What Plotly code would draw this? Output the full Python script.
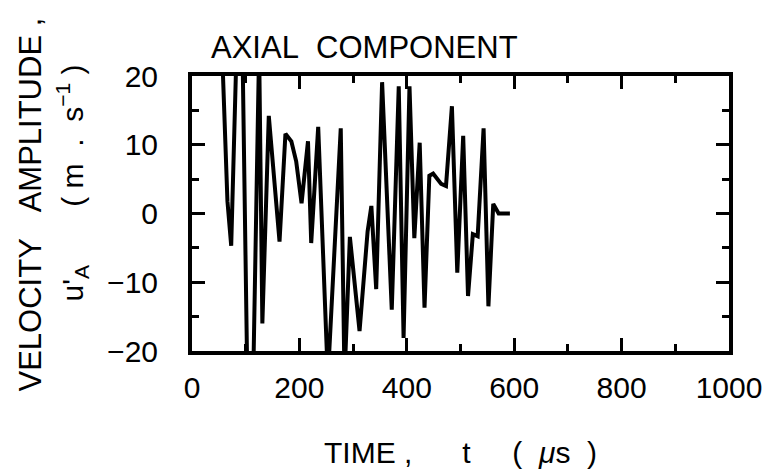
import plotly.graph_objects as go

# axial velocity trace (values beyond +/-20 run off the box)
time_us = [55, 66, 73, 83, 94, 103, 114, 125, 131, 143, 163, 174, 185, 194, 204,
           216, 222, 235, 253, 277, 284, 294, 312, 327, 334, 343, 354, 372, 385,
           394, 405, 414, 424, 433, 442, 449, 464, 473, 484, 494, 505, 514, 523,
           532, 543, 552, 561, 571, 592]
u_axial = [26, 1.8, -4.7, 24, 24, -24, -24, 24, -16, 14.2, -4.1, 11.6, 10.5, 7.6, 1.5,
           10.5, -4.3, 12.6, -24, 12.4, -24, -3.4, -17.1, -2.6, 1.1, -11, 19.1, -14, 18.5,
           -18.1, 18.5, -3.6, 10.3, -13.7, 5.5, 5.8, 4.3, 4.0, 15.6, -8.6, 11.3, -12.0, -3.0,
           -3.3, 12.4, -13.5, 1.4, 0, 0]

x_ticks = [0, 200, 400, 600, 800, 1000]
y_ticks = [-20, -10, 0, 10, 20]

FONT = "Liberation Sans, Arial, sans-serif"
NB = "\u00a0"

fig = go.Figure()
fig.add_trace(go.Scatter(x=time_us, y=u_axial, mode="lines",
                         line=dict(color="black", width=4), showlegend=False, hoverinfo="skip"))

axis_common = dict(showline=True, linewidth=4, linecolor="black", mirror="ticks",
                   ticks="inside", tickwidth=2.5, ticklen=13, tickcolor="black",
                   showgrid=False, zeroline=False,
                   tickfont=dict(family=FONT, size=30, color="black"))

# page body adds an 8px offset, so the figure is 8px smaller than the window
fig.update_layout(
    width=766, height=461,
    margin=dict(l=184, r=36, t=68, b=118),
    paper_bgcolor="white", plot_bgcolor="white",
    xaxis=dict(range=[0, 1000], tickvals=x_ticks, ticklabelstandoff=7,
               minor=dict(dtick=100, ticks="inside", ticklen=7, tickwidth=2.5, tickcolor="black"),
               **axis_common),
    yaxis=dict(range=[-20, 20], tickvals=y_ticks, ticklabelstandoff=24,
               minor=dict(dtick=5, ticks="inside", ticklen=7, tickwidth=2.5, tickcolor="black"),
               **axis_common),
)

ann_font = dict(family=FONT, size=30, color="black")
fig.add_annotation(text="AXIAL" + NB * 2 + "COMPONENT", xref="paper", yref="paper",
                   x=0.322, y=1, xanchor="center", yanchor="middle", yshift=29,
                   showarrow=False, font=dict(family=FONT, size=31, color="black"))
fig.add_annotation(text="TIME" + NB + "," + NB * 6 + "t" + NB * 5 + "(" + NB * 2 + "<i>μ</i>s" + NB * 2 + ")",
                   xref="paper", yref="paper", x=0.5, y=0, xanchor="center", yanchor="middle",
                   yshift=-101, showarrow=False, font=ann_font)
fig.add_annotation(text="VELOCITY" + NB * 3 + "AMPLITUDE" + NB + ",", xref="paper", yref="paper",
                   x=0, y=0.5, xanchor="center", yanchor="middle", xshift=-162, yshift=9,
                   textangle=-90, showarrow=False, font=dict(family=FONT, size=31, color="black"))
fig.add_annotation(text="u'<sub>A</sub>" + NB * 7 + "(" + NB + "m" + NB * 2 + "." + NB * 2 + "s<sup>−1</sup>" + NB + ")",
                   xref="paper", yref="paper", x=0, y=0.5, xanchor="center", yanchor="middle",
                   xshift=-120, yshift=30, textangle=-90, showarrow=False, font=ann_font)

fig.write_html("out.html")
